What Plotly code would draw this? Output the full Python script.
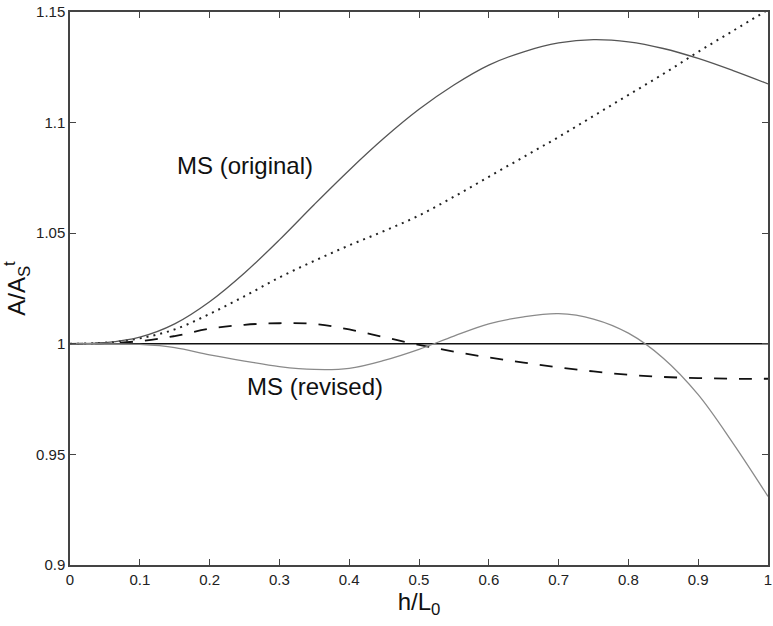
import plotly.graph_objects as go

x_vals = [0, 0.05, 0.1, 0.15, 0.2, 0.25, 0.3, 0.35, 0.4, 0.45, 0.5,
          0.55, 0.6, 0.65, 0.7, 0.75, 0.8, 0.85, 0.9, 0.95, 1.0]

ms_original = [1.0, 1.0005, 1.003, 1.009, 1.019, 1.032, 1.047, 1.063, 1.0785, 1.093, 1.106,
               1.117, 1.126, 1.132, 1.136, 1.1375, 1.1365, 1.1335, 1.129, 1.1235, 1.1175]

dotted_curve = [1.0, 1.0005, 1.0025, 1.0065, 1.0135, 1.0215, 1.030, 1.0375, 1.0445, 1.051, 1.058,
                1.0665, 1.0755, 1.0845, 1.0935, 1.103, 1.1125, 1.122, 1.132, 1.1415, 1.151]

dashed_curve = [1.0, 1.0003, 1.0012, 1.0035, 1.0068, 1.0086, 1.0093, 1.009, 1.0065, 1.003, 0.9995,
                0.9965, 0.9938, 0.9915, 0.9893, 0.9875, 0.986, 0.985, 0.9845, 0.9842, 0.9842]

ms_revised = [1.0, 1.0, 0.9997, 0.9983, 0.995, 0.9922, 0.9897, 0.9884, 0.9889, 0.9925, 0.9975,
              1.0035, 1.009, 1.0122, 1.0136, 1.0112, 1.0048, 0.9935, 0.977, 0.955, 0.931]

reference_x = [0, 1]
reference_y = [1.0, 1.0]

x_ticks = [0, 0.1, 0.2, 0.3, 0.4, 0.5, 0.6, 0.7, 0.8, 0.9, 1]
x_tick_labels = ["0", "0.1", "0.2", "0.3", "0.4", "0.5", "0.6", "0.7", "0.8", "0.9", "1"]
y_ticks = [0.9, 0.95, 1.0, 1.05, 1.1, 1.15]
y_tick_labels = ["0.9", "0.95", "1", "1.05", "1.1", "1.15"]

fig = go.Figure()
fig.add_trace(go.Scatter(x=reference_x, y=reference_y, mode="lines",
                         line=dict(color="#111111", width=1.6), showlegend=False))
fig.add_trace(go.Scatter(x=x_vals, y=dotted_curve, mode="lines",
                         line=dict(color="#222222", width=2, dash="2px,5px", shape="spline"),
                         showlegend=False))
fig.add_trace(go.Scatter(x=x_vals, y=dashed_curve, mode="lines",
                         line=dict(color="#111111", width=1.8, dash="13px,12px", shape="spline"),
                         showlegend=False))
fig.add_trace(go.Scatter(x=x_vals, y=ms_original, mode="lines",
                         line=dict(color="#555555", width=1.3, shape="spline"), showlegend=False))
fig.add_trace(go.Scatter(x=x_vals, y=ms_revised, mode="lines",
                         line=dict(color="#8a8a8a", width=1.3, shape="spline"), showlegend=False))

font_family = "Liberation Sans, Arial, sans-serif"

fig.add_annotation(x=0.251, y=1.0804, text="MS (original)", showarrow=False,
                   font=dict(family=font_family, size=24, color="#111111"))
fig.add_annotation(x=0.351, y=0.9809, text="MS (revised)", showarrow=False,
                   font=dict(family=font_family, size=24, color="#111111"))

axis_common = dict(showgrid=False, zeroline=False, showline=True, linecolor="#444444",
                   linewidth=1.5, mirror="ticks", ticks="inside", ticklen=6,
                   tickcolor="#444444", tickwidth=1.3, automargin=False,
                   tickfont=dict(family=font_family, size=15, color="#222222"))

fig.update_xaxes(range=[0, 1], tickvals=x_ticks, ticktext=x_tick_labels,
                 title=dict(text="h/L<sub>0</sub>", font=dict(family=font_family, size=24, color="#111111"),
                            standoff=2),
                 **axis_common)
fig.update_yaxes(range=[0.9, 1.15], tickvals=y_ticks, ticktext=y_tick_labels,
                 title=dict(text="A/A<sub>S</sub><sup>t</sup>", font=dict(family=font_family, size=24, color="#111111"),
                            standoff=10),
                 **axis_common)

fig.update_layout(width=773, height=626, margin=dict(l=70, r=5, t=12, b=61),
                  plot_bgcolor="white", paper_bgcolor="white")

fig.write_html("out.html")
